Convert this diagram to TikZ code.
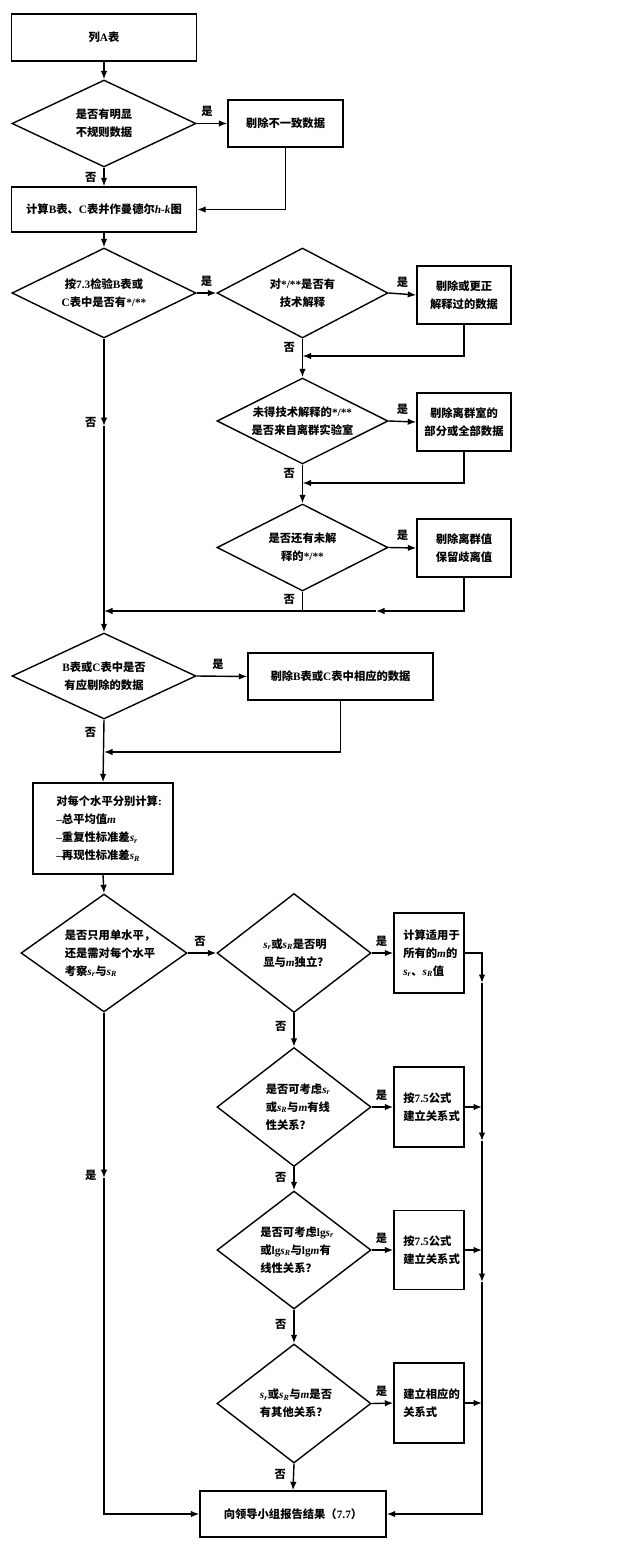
\documentclass[tikz,border=0pt]{standalone}
\usepackage{fontspec}
\setmainfont{Noto Sans CJK SC}
\newfontfamily\latin{Liberation Serif}
\usetikzlibrary{shapes.geometric,arrows.meta}
\newcommand\lt[1]{{\latin #1}}
\newcommand\vs[1]{{\latin\itshape s\textsubscript{#1}}}
\newcommand\vm{{\latin\itshape m}}
\newcommand\stars{{\latin */**}}
\begin{document}
\begin{tikzpicture}[x=1pt,y=-1pt,line width=1.4pt,
  font=\fontsize{11.3}{18}\selectfont\bfseries,
  box/.style={draw,rectangle,inner sep=0pt,align=center},
  dia/.style={draw,diamond,inner sep=0pt},
  arr/.style={-{Latex[length=8.5pt,width=6.5pt]}},
  yes/.style={above=6pt,inner sep=0pt},
  no/.style={left=7pt,inner sep=0pt},
  ltxt/.style={anchor=west,align=left,xshift=#1},
  ctxt/.style={align=center,xshift=#1}]
\useasboundingbox (0,0) rectangle (640,1550);

% nodes
\node[box,minimum width=185,minimum height=47] (a) at (104,37.5) {列\lt{A}表};
\node[dia,minimum width=184,minimum height=87,label={[ctxt=0]center:{是否有明显\\不规则数据}}] (d1) at (104,123.5) {};
\node[box,minimum width=115,minimum height=47] (r1) at (285.5,123.5) {剔除不一致数据};
\node[box,minimum width=185,minimum height=45] (b) at (104,209.5) {计算\lt{B}表、\lt{C}表并作曼德尔\lt{\itshape h-k}图};
\node[dia,minimum width=184,minimum height=90,label={[ctxt=0]center:{按\lt{7.3}检验\lt{B}表或\\\lt{C}表中是否有\stars{}}}] (d2) at (104,293) {};
\node[dia,minimum width=171,minimum height=90,label={[ctxt=0]center:{对\stars{}是否有\\技术解释}}] (d3) at (302.5,293) {};
\node[box,minimum width=94,minimum height=58] (r2) at (464,295) {剔除或更正\\解释过的数据};
\node[dia,minimum width=171,minimum height=86,label={[ctxt=0]center:{未得技术解释的\stars{}\\是否来自离群实验室}}] (d4) at (302.5,421) {};
\node[box,minimum width=94,minimum height=58] (r3) at (464,422) {剔除离群室的\\部分或全部数据};
\node[dia,minimum width=171,minimum height=87,label={[ctxt=0]center:{是否还有未解\\释的\stars{}}}] (d5) at (302.5,547.5) {};
\node[box,minimum width=94,minimum height=58] (r4) at (464,548) {剔除离群值\\保留歧离值};
\node[dia,minimum width=184,minimum height=86,label={[ctxt=0]center:{\lt{B}表或\lt{C}表中是否\\有应剔除的数据}}] (d6) at (104,676) {};
\node[box,minimum width=185,minimum height=47] (r5) at (340.5,676.5) {剔除\lt{B}表或\lt{C}表中相应的数据};
\node[box,minimum width=140,minimum height=91,label={[ltxt=20]west:{对每个水平分别计算\lt{:}\\\lt{–}总平均值\vm{}\\\lt{–}重复性标准差\vs{r}\\\lt{–}再现性标准差\vs{R}}}] (c) at (103,828.5) {};
\node[dia,minimum width=166,minimum height=118,label={[ctxt=6,align=left]center:{是否只用单水平，\\还是需对每个水平\\考察\vs{r}与\vs{R}}}] (d8) at (104,953) {};
\node[dia,minimum width=154,minimum height=119,label={[ctxt=2,align=left]center:{\vs{r}或\vs{R}是否明\\显与\vm{}独立？}}] (d9) at (294,953) {};
\node[box,minimum width=70,minimum height=80,label={[ltxt=6]west:{计算适用于\\所有的\vm{}的\\\vs{r}、\vs{R}值}}] (r6) at (429,953) {};
\node[dia,minimum width=154,minimum height=119,label={[ctxt=4,align=left]center:{是否可考虑\vs{r}\\或\vs{R}与\vm{}有线\\性关系？}}] (d11) at (294,1107) {};
\node[box,minimum width=70,minimum height=80,label={[ltxt=6]west:{按\lt{7.5}公式\\建立关系式}}] (r7) at (429,1107) {};
\node[dia,minimum width=154,minimum height=118,label={[ctxt=3,align=left]center:{是否可考虑\lt{lg}\vs{r}\\或\lt{lg}\vs{R}与\lt{lg}\vm{}有\\线性关系？}}] (d13) at (294,1250) {};
\node[box,minimum width=70,minimum height=79,label={[ltxt=6]west:{按\lt{7.5}公式\\建立关系式}}] (r8) at (429,1250) {};
\node[dia,minimum width=154,minimum height=119,label={[ctxt=2,align=left]center:{\vs{r}或\vs{R}与\vm{}是否\\有其他关系？}}] (d15) at (294,1403.5) {};
\node[box,minimum width=70,minimum height=80,label={[ltxt=6]west:{建立相应的\\关系式}}] (r9) at (429,1403) {};
\node[box,minimum width=186,minimum height=46] (fin) at (293,1514) {向领导小组报告结果（\lt{7.7}）};

% coordinates
\coordinate (j1) at (302.5,356);
\coordinate (j2) at (302.5,483);
\coordinate (j3) at (302.5,611);
\coordinate (m1) at (376,611);
\coordinate (j4) at (104,611);
\coordinate (m2) at (104,426);
\coordinate (j5) at (104,752);
\coordinate (m3) at (104,1178);
\coordinate (k1) at (482,953);
\coordinate (ka) at (482,983);
\coordinate (k2) at (482,1107);
\coordinate (kb) at (482,1141);
\coordinate (k3) at (482,1250);
\coordinate (kc) at (482,1282);
\coordinate (k4) at (482,1403);
\coordinate (k5) at (482,1514);

% connectors
\draw[arr] (a.south) -- (d1.north);
\draw[arr] (d1.east) -- node[yes,pos=.34]{是} (r1.west);
\draw[arr] (d1.south) -- node[no]{否} (b.north);
\draw[arr] (r1.south) |- (b.east);
\draw[arr] (b.south) -- (d2.north);
\draw[arr] (d2.east) -- node[yes]{是} (d3.west);
\draw[arr] (d3.east) -- node[yes]{是} (r2.west);
\draw[arr] (d3.south) -- node[no,pos=.22]{否} (d4.north);
\draw[arr] (r2.south) |- (j1);
\draw[arr] (d4.east) -- node[yes]{是} (r3.west);
\draw[arr] (d4.south) -- node[no,pos=.22]{否} (d5.north);
\draw[arr] (r3.south) |- (j2);
\draw[arr] (d5.east) -- node[yes]{是} (r4.west);
\draw (d5.south) -- node[no,pos=.4]{否} (j3);
\draw[arr] (r4.south) |- (m1);
\draw[arr] (m1) -- (j4);
\draw[arr] (d2.south) -- node[no,pos=1,yshift=4pt]{否} (m2);
\draw[arr] (m2) -- (d6.north);
\draw[arr] (d6.east) -- node[yes,pos=.42]{是} (r5.west);
\draw[arr] (d6.south) -- node[no,pos=.2]{否} (c.north);
\draw[arr] (r5.south) |- (j5);
\draw[arr] (c.south) -- (d8.north);
\draw[arr] (d8.east) -- node[yes,pos=.43]{否} (d9.west);
\draw[arr] (d9.east) -- node[yes,pos=.45]{是} (r6.west);
\draw[arr] (r6.east) -- (k1) -- (ka);
\draw[arr] (ka) -- (kb);
\draw[arr] (kb) -- (kc);
\draw[arr] (kc) -- (k5) -- (fin.east);
\draw[arr] (r7.east) -- (k2);
\draw[arr] (r8.east) -- (k3);
\draw[arr] (r9.east) -- (k4);
\draw[arr] (d9.south) -- node[no,pos=.4]{否} (d11.north);
\draw[arr] (d11.east) -- node[yes,pos=.45]{是} (r7.west);
\draw[arr] (d11.south) -- node[no,pos=.45]{否} (d13.north);
\draw[arr] (d13.east) -- node[yes,pos=.45]{是} (r8.west);
\draw[arr] (d13.south) -- node[no,pos=.45]{否} (d15.north);
\draw[arr] (d15.east) -- node[yes,pos=.45]{是} (r9.west);
\draw[arr] (d15.south) -- node[no,pos=.4]{否} (fin.north);
\draw[arr] (d8.south) -- node[no,pos=1,yshift=3pt]{是} (m3);
\draw[arr] (m3) |- (fin.west);
\end{tikzpicture}
\end{document}
